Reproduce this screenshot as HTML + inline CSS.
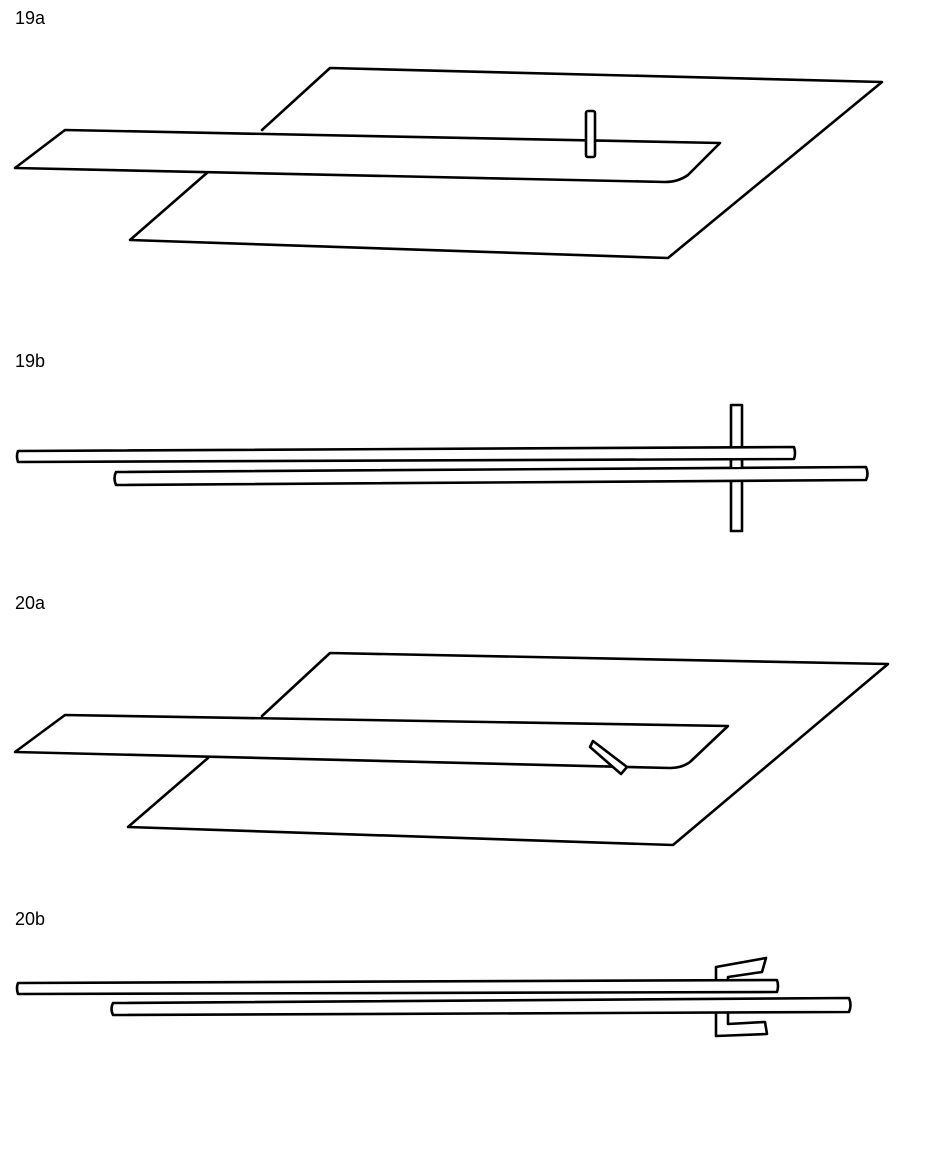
<!DOCTYPE html>
<html><head><meta charset="utf-8"><style>
html,body{margin:0;padding:0;background:#fff;}
svg{display:block;}
text{font-family:"Liberation Sans",sans-serif;font-size:18px;fill:#000;}
</style></head><body>
<svg width="926" height="1153" viewBox="0 0 926 1153">
<g fill="none" stroke="#000" stroke-width="2.6" stroke-linejoin="round" stroke-linecap="round">

<g>
  <path d="M262,130 L330,68 L882,82 L668,258 L130,240 L208,172"/>
  <path d="M15,168 L65,130 L720,143 L688,175 Q678,182 665,182 Z" fill="#fff"/>
  <rect x="586" y="111" width="9" height="46" rx="2" fill="#fff"/>
</g>

<g>
  <rect x="731" y="405" width="11" height="126" fill="#fff"/>
  <path d="M18,451 L794,447 Q796,453 794,459 L18,462 Q16,456 18,451 Z" fill="#fff"/>
  <path d="M116,472 L866,467 Q869,474 866,480 L116,485 Q113,478 116,472 Z" fill="#fff"/>
  <rect x="732" y="461" width="9" height="6" fill="#fff" stroke="none"/>
  <line x1="731" y1="461" x2="731" y2="467"/><line x1="742" y1="461" x2="742" y2="467"/>
</g>

<g>
  <path d="M262,716 L330,653 L888,664 L673,845 L128,827 L208,758"/>
  <path d="M15,752 L65,715 L728,726 L690,762 Q682,768 670,768 Z" fill="#fff"/>
  <path d="M593,741 L627,767 L621,774 L590,747 Z" fill="#fff"/>
</g>

<g>
  <path d="M716,967 L766,958 L762,972 L728,977 L728,983 L716,983 Z" fill="#fff"/>
  <path d="M716,1012 L716,1036 L767,1034 L765,1022 L728,1024 L728,1012 Z" fill="#fff"/>
  <path d="M18,983 L777,980 Q779,986 777,992 L18,994 Q16,988 18,983 Z" fill="#fff"/>
  <path d="M113,1003 L849,998 Q852,1005 849,1012 L113,1015 Q110,1009 113,1003 Z" fill="#fff"/>
</g>
</g>

<text x="15" y="24">19a</text>
<text x="15" y="367">19b</text>
<text x="15" y="609">20a</text>
<text x="15" y="925">20b</text>
</svg>
</body></html>
